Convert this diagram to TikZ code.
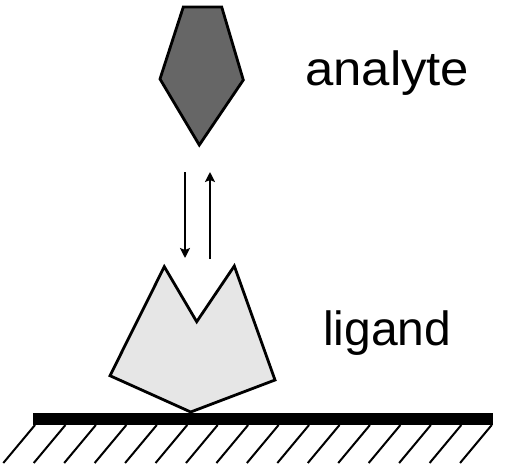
\documentclass[tikz,border=0pt]{standalone}
\usepackage{fontspec}
\setmainfont{Liberation Sans}
\usetikzlibrary{arrows.meta}
\definecolor{analytefill}{HTML}{666666}
\definecolor{ligandfill}{HTML}{E6E6E6}
\tikzset{
  molecule/.style={draw=black, line width=2.8pt, line join=miter},
  label/.style={anchor=base west, inner sep=0pt, font=\fontsize{48}{56}\selectfont},
  flow/.style={line width=2pt, -{Stealth[width=10pt,length=10pt,inset=2pt]}},
  hatch/.style={line width=2pt},
}
\begin{document}
\begin{tikzpicture}[x=1pt,y=-1pt]
  \useasboundingbox (0,0) rectangle (505,468);

  % analyte molecule
  \filldraw[molecule, fill=analytefill]
    (183.3,7) -- (221.7,7) -- (243.3,80) -- (199.3,145) -- (160,79) -- cycle;
  \node[label, xscale=1.06] (analyte) at (305,85) {analyte};

  % binding / dissociation arrows
  \coordinate (downtop) at (185,172);
  \coordinate (downtip) at (185,258);
  \coordinate (upbase) at (210,259);
  \coordinate (uptip) at (210,172);
  \draw[flow] (downtop) -- (downtip);
  \draw[flow] (upbase) -- (uptip);

  % ligand on the surface
  \filldraw[molecule, fill=ligandfill]
    (164.3,266.7) -- (196.7,321.7) -- (234.3,266) -- (275,380)
    -- (190.7,412) -- (110,375.7) -- cycle;
  \node[label] (ligand) at (323,345) {ligand};

  % surface with hatching below
  \fill[black] (33.3,412.7) rectangle (492.7,425);
  \foreach \k in {0,...,15}{
    \draw[hatch] ({35+30.45*\k},425) -- ({35+30.45*\k-31.7},463);
  }
\end{tikzpicture}
\end{document}
